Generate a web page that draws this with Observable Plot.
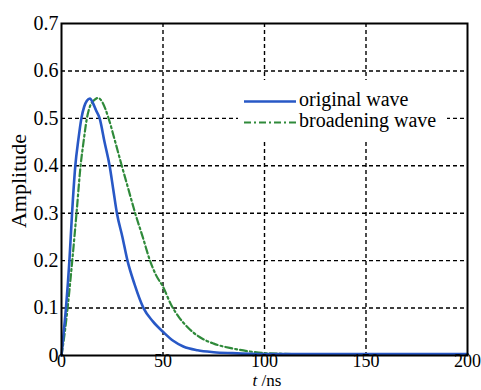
<!DOCTYPE html>
<html>
<head>
<meta charset="utf-8">
<script src="https://cdn.jsdelivr.net/npm/d3@7"></script>
<script src="https://cdn.jsdelivr.net/npm/@observablehq/plot@0.6"></script>
<style>
  html, body { margin: 0; padding: 0; background: white; }
  #chart { width: 481px; height: 390px; }
</style>
</head>
<body>
<div id="chart"></div>
<script>
// Original wave
const tOriginal = [0, 1, 2.2, 3.9, 5.2, 6.8, 8.3, 9.8, 11.2, 12.5, 14, 15.5, 17, 18.8, 21.2, 23.7, 25.5, 27.3, 30, 32.5, 36, 40.4, 45, 50, 55, 60, 67, 75, 84, 100, 120, 150, 200];
const aOriginal = [0, 0.045, 0.1, 0.2, 0.3, 0.4, 0.455, 0.5, 0.525, 0.537, 0.542, 0.532, 0.517, 0.5, 0.45, 0.4, 0.35, 0.3, 0.25, 0.2, 0.15, 0.1, 0.072, 0.05, 0.031, 0.019, 0.011, 0.007, 0.005, 0.003, 0.003, 0.003, 0.003];
// Broadening wave
const tBroadening = [0, 1.5, 3, 5.3, 7.4, 9.4, 11, 12.5, 14, 16, 18, 20, 21.6, 23.2, 26.5, 29.7, 33, 36.3, 40, 43.6, 46.5, 50, 54, 58, 62, 68, 75, 84, 92, 100, 120, 150, 200];
const aBroadening = [0, 0.045, 0.1, 0.2, 0.3, 0.4, 0.455, 0.5, 0.525, 0.538, 0.543, 0.535, 0.52, 0.5, 0.45, 0.4, 0.35, 0.3, 0.25, 0.2, 0.17, 0.145, 0.107, 0.08, 0.06, 0.039, 0.025, 0.015, 0.009, 0.005, 0.003, 0.003, 0.003];
// Ticks and labels
const xTicks = [0, 50, 100, 150, 200];
const yTicks = [0, 0.1, 0.2, 0.3, 0.4, 0.5, 0.6, 0.7];
const seriesNames = ["original wave", "broadening wave"];
const seriesColors = ["#2858c6", "#2f8a3a"];
const seriesDash = [null, "7,3,2,3"];

const original = tOriginal.map((t, i) => ({t, a: aOriginal[i]}));
const broadening = tBroadening.map((t, i) => ({t, a: aBroadening[i]}));

const FONT = "Liberation Serif, Times New Roman, serif";

const plot = Plot.plot({
  width: 481,
  height: 390,
  marginLeft: 61,
  marginRight: 14,
  marginTop: 23,
  marginBottom: 35,
  style: {fontFamily: FONT, fontSize: "18px", color: "black", background: "white", overflow: "visible"},
  x: {domain: [0, 200]},
  y: {domain: [0, 0.7]},
  marks: [
    Plot.gridX(xTicks.slice(1, -1), {stroke: "black", strokeOpacity: 1, strokeWidth: 1.4, strokeDasharray: "4,3"}),
    Plot.gridY(yTicks.slice(1, -1), {stroke: "black", strokeOpacity: 1, strokeWidth: 1.4, strokeDasharray: "4,3"}),
    Plot.line(broadening, {x: "t", y: "a", stroke: seriesColors[1], strokeWidth: 2.2, strokeDasharray: seriesDash[1], curve: "monotone-x"}),
    Plot.line(original, {x: "t", y: "a", stroke: seriesColors[0], strokeWidth: 2.6, curve: "monotone-x"}),
    Plot.frame({stroke: "black", strokeWidth: 2}),
    Plot.axisX(xTicks, {tickSize: 0, tickPadding: 0, dy: -1.5, label: null, fontSize: 18}),
    Plot.axisY(yTicks, {tickSize: 0, tickPadding: 3, label: null, fontSize: 20,
      tickFormat: d => d === 0 ? "0" : d.toFixed(1)})
  ]
});

const svg = d3.select(plot);
const xs = plot.scale("x"), ys = plot.scale("y");
const plotLeft = xs.range[0], plotRight = xs.range[1];
const plotTop = ys.range[1], plotBottom = ys.range[0];

// Legend
const lg = svg.append("g").attr("font-family", FONT).attr("font-size", 20).attr("text-anchor", "start");
lg.append("rect").attr("x", 238).attr("y", 80).attr("width", 209).attr("height", 60)
  .attr("fill", "white").attr("stroke", "none");
seriesNames.forEach((name, i) => {
  const yy = 101.5 + i * 21;
  lg.append("line").attr("x1", 244).attr("x2", 296).attr("y1", yy).attr("y2", yy)
    .attr("stroke", seriesColors[i]).attr("stroke-width", i === 0 ? 2.6 : 2.2)
    .attr("stroke-dasharray", seriesDash[i]);
  lg.append("text").attr("x", 299).attr("y", yy + 4.5).attr("fill", "black")
    .attr("text-anchor", "start").text(name);
});

// Axis labels
const xl = svg.append("text").attr("font-family", FONT).attr("font-size", 17)
  .attr("x", (plotLeft + plotRight) / 2 + 3).attr("y", 386).attr("text-anchor", "middle").attr("fill", "black");
xl.append("tspan").attr("font-style", "italic").text("t");
xl.append("tspan").text(" /ns");

svg.append("text").attr("font-family", FONT).attr("font-size", 22)
  .attr("transform", `translate(26,${(plotTop + plotBottom) / 2 - 8}) rotate(-90)`)
  .attr("text-anchor", "middle").attr("fill", "black").text("Amplitude");

document.getElementById("chart").appendChild(plot);
</script>
</body>
</html>
